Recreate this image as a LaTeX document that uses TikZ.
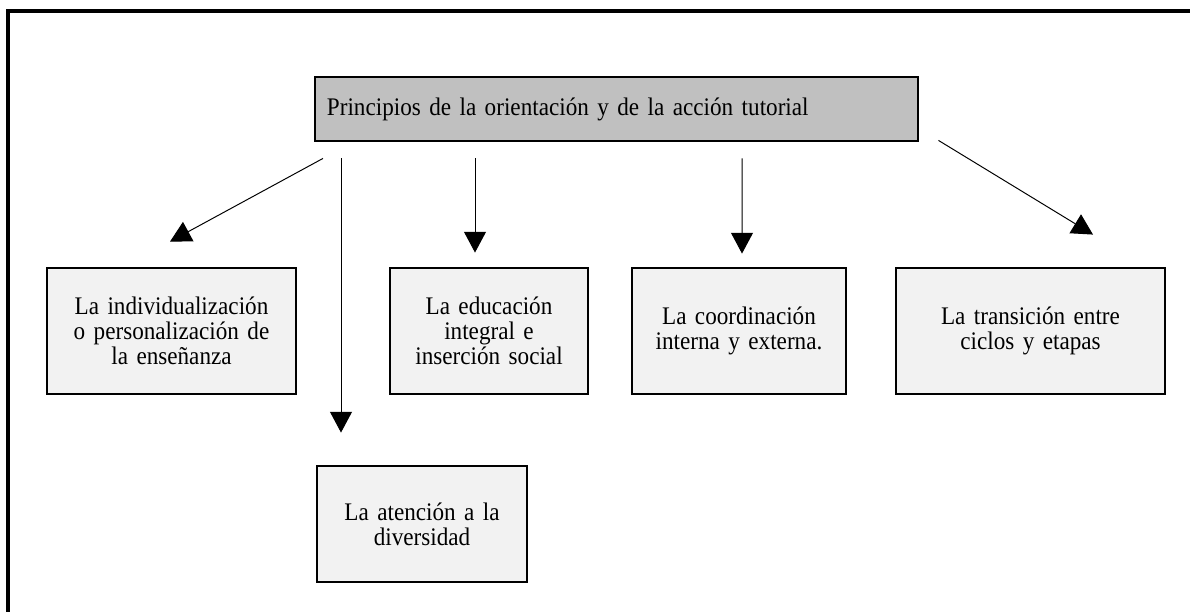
\documentclass[tikz,border=0pt]{standalone}
\usepackage{fontspec}
\setmainfont{Liberation Serif}[FakeStretch=0.915]
\usetikzlibrary{arrows.meta}
\definecolor{titulogris}{HTML}{C0C0C0}
\definecolor{cajagris}{HTML}{F2F2F2}
\tikzset{>={Triangle[width=0.55cm,length=0.52cm]}}
\tikzset{
	caja/.style={draw, line width=2pt, fill=cajagris, align=center, inner xsep=0.15cm, font=\fontsize{18}{18}\selectfont},
	flecha/.style={->, line width=0.7pt}
}

\begin{document}
\begin{tikzpicture}[x=0.025cm, y=-0.025cm]
	
	\useasboundingbox (0,0) rectangle (1190,612);
	\draw[line width=2.2pt] (1190,11) -- (8,11) -- (8,612);

	\node[draw, line width=2pt, fill=titulogris, text width=14.475cm, inner xsep=0.3cm, minimum height=1.6cm, align=left, font=\fontsize{18}{18}\selectfont](principios) at (616.5,109) {Principios de la orientación y de la acción tutorial};
	
	% Principios
	
	\node[caja, text width=5.925cm, minimum height=3.15cm](individual) at (171.5,331) {La individualización\\ o personalización de\\ la enseñanza};
	
	\node[caja, text width=4.65cm, minimum height=3.15cm](educacion) at (489,331) {La educación\\ integral e\\ inserción social};
	
	\node[caja, text width=5.05cm, minimum height=3.15cm](coordinacion) at (739,331) {La coordinación\\ interna y externa.};
	
	\node[caja, text width=6.425cm, minimum height=3.15cm](transicion) at (1030.5,331) {La transición entre\\ ciclos y etapas};
	
	\node[caja, text width=4.95cm, minimum height=2.9cm](atencion) at (422,524) {La atención a la\\ diversidad};
	
	% Arrows
	
	\draw [flecha] ([shift={(-293.5,16)}]principios.south) to ([shift={(-1.5,-25)}]individual.north);
	\draw [flecha] ([shift={(-275.5,16)}]principios.south) to ([shift={(-81,-32)}]atencion.north);
	\draw [flecha] ([shift={(-141.5,16)}]principios.south) to ([shift={(-14,-14)}]educacion.north);
	\draw [flecha] ([shift={(125.5,16)}]principios.south) to ([shift={(3,-13)}]coordinacion.north);
	\draw [flecha] ([shift={(19,-2)}]principios.south east) to ([shift={(62.5,-32)}]transicion.north);
		
\end{tikzpicture}
\end{document}
